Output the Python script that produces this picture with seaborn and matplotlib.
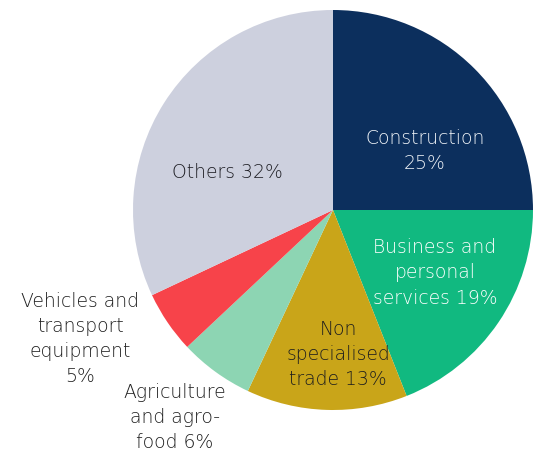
import matplotlib
matplotlib.use("Agg")
import matplotlib.pyplot as plt
import seaborn as sns

# sector shares (%)
sectors = ["Construction", "Business and\npersonal\nservices", "Non\nspecialised\ntrade",
           "Agriculture\nand agro-\nfood", "Vehicles and\ntransport\nequipment", "Others"]
shares = [25, 19, 13, 6, 5, 32]
colors = ["#0c2f5d", "#11b980", "#c9a519", "#8dd5b3", "#f7434a", "#cdd0de"]

# label text and where it sits (data coords, pie radius = 1)
label_text = ["Construction\n25%", "Business and\npersonal\nservices 19%", "Non\nspecialised\ntrade 13%",
              "Agriculture\nand agro-\nfood 6%", "Vehicles and\ntransport\nequipment\n5%", "Others 32%"]
label_pos = [(0.46, 0.30), (0.51, -0.31), (0.025, -0.72), (-0.79, -1.035), (-1.265, -0.64), (-0.53, 0.195)]
label_col = ["#f0f4f8", "#ffffff", "#1e1e1e", "#1e1e1e", "#1e1e1e", "#1e1e24"]

sns.set_theme(style="white")
plt.rcParams['font.family'] = ['DejaVu Sans']

fig = plt.figure(figsize=(5.37, 4.52), dpi=100)
ax = fig.add_axes([133 / 537, (452 - 411) / 452, 400 / 537, 400 / 452])
ax.pie(shares, colors=sns.color_palette(colors), startangle=90, counterclock=False,
       radius=1, wedgeprops=dict(linewidth=0))
ax.set_xlim(-1, 1)
ax.set_ylim(-1, 1)
ax.set_aspect("equal")
ax.axis("off")

for txt, (x, y), c in zip(label_text, label_pos, label_col):
    ax.text(x, y, txt, ha="center", va="center", fontsize=13.5, color=c,
            fontweight=200, linespacing=1.4, clip_on=False)

fig.savefig("out.png", dpi=100)
